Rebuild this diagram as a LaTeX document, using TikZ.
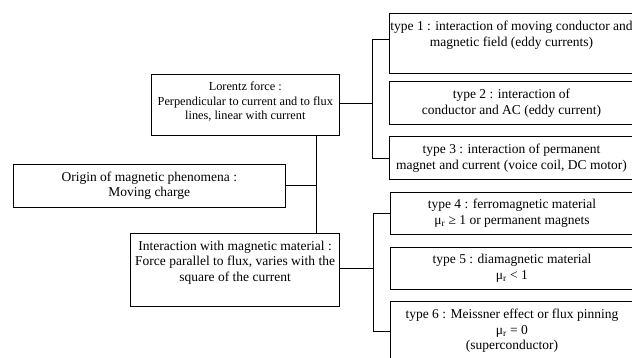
\documentclass[tikz,border=0pt]{standalone}
\usepackage{fontspec}
\setmainfont{Liberation Serif}

\begin{document}
\begin{tikzpicture}[x=1pt, y=-1pt, line width=0.9pt,
  blk/.style={draw, rectangle, inner sep=0pt, anchor=north west},
  txt/.style={align=center, inner sep=0pt, font=\fontsize{13.5}{15.5}\selectfont},
  small/.style={align=center, inner sep=0pt, font=\fontsize{12.3}{14.5}\selectfont}]
\useasboundingbox (0,0) rectangle (632,358);
\clip (0,0) rectangle (632,358);

% left column
\node[blk, minimum width=188.3, minimum height=60.7] (lor) at (150.7,74.3) {};
\node[small, anchor=north] (lortext) at ([yshift=-7.2pt]lor.north) {Lorentz force :\\Perpendicular to current and to flux\\lines, linear with current};
\node[blk, txt, minimum width=272.3, minimum height=43.3] (org) at (12.7,163.7) {Origin of magnetic phenomena :\\Moving charge};
\node[blk, minimum width=209.3, minimum height=73.3] (int) at (130,232.7) {};
\node[txt, anchor=north] (inttext) at ([yshift=-7.8pt]int.north) {Interaction with magnetic material :\\Force parallel to flux, varies with the\\square of the current};

% right column
\node[blk, minimum width=243.5, minimum height=60] (t1) at (389.3,12.7) {};
\node[txt, anchor=north] (t1text) at ([yshift=-8.2pt]t1.north) {type 1 : interaction of moving conductor and\\magnetic field (eddy currents)};
\node[blk, txt, minimum width=243.5, minimum height=43] (t2) at (389.3,81.5) {type 2 : interaction of\\conductor and AC (eddy current)};
\node[blk, txt, minimum width=243.5, minimum height=43.5] (t3) at (389.3,136) {type 3 : interaction of permanent\\magnet and current (voice coil, DC motor)};
\node[blk, txt, minimum width=243, minimum height=42] (t4) at (390,192) {type 4 : ferromagnetic material\\μ\textsubscript{r} ≥ 1 or permanent magnets};
\node[blk, txt, minimum width=243, minimum height=42] (t5) at (390,246.7) {type 5 : diamagnetic material\\μ\textsubscript{r} < 1};
\node[blk, minimum width=243, minimum height=60] (t6) at (390,301) {};
\node[txt, anchor=north] (t6text) at ([yshift=-8pt]t6.north) {type 6 : Meissner effect or flux pinning\\μ\textsubscript{r} = 0\\(superconductor)};

\coordinate (sp0) at (316,0);
\coordinate (sp1) at (372.5,0);
\coordinate (sp2) at (373.3,0);

\draw (lor.south -| sp0) -- (int.north -| sp0);
\draw (org.east) -- (org.east -| sp0);
\draw ([yshift=2pt]lor.east) -- ([yshift=2pt]lor.east -| sp1);
\draw ([yshift=3.4pt]t1.west) -| (sp1 |- t3.west) -- (t3.west);
\draw ([yshift=1.5pt]int.east) -- ([yshift=1.5pt]int.east -| sp2);
\draw (t4.west) -| (sp2 |- t6.west) -- (t6.west);
\end{tikzpicture}
\end{document}
